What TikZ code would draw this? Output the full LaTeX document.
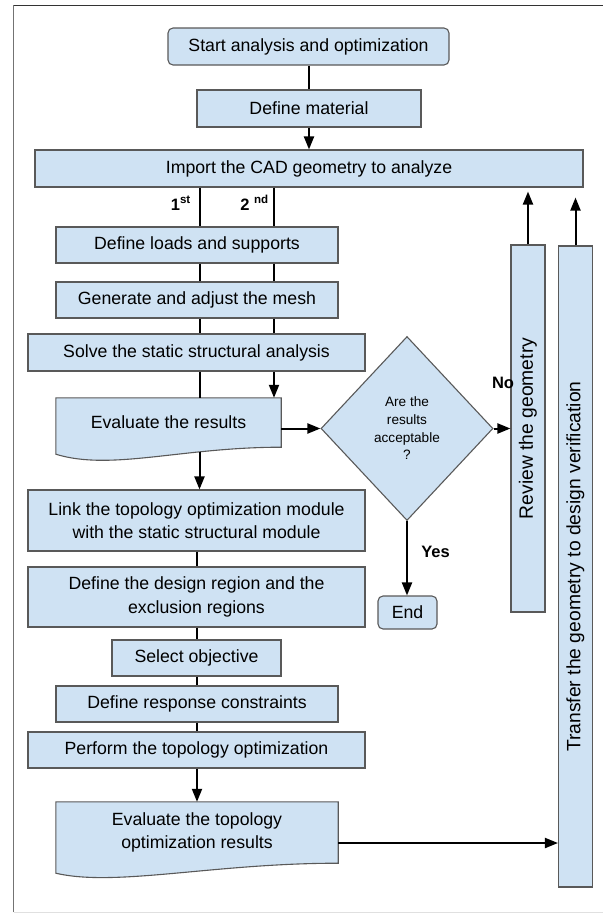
\documentclass[tikz,border=0pt]{standalone}
\usepackage{fontspec}
\setmainfont{Liberation Sans}
\usetikzlibrary{arrows.meta,shapes.geometric,calc,backgrounds}
\definecolor{boxfill}{HTML}{CFE2F3}
\definecolor{boxline}{HTML}{595959}
\begin{document}
\begin{tikzpicture}[x=1pt,y=-1pt,
  box/.style={draw=boxline, line width=1.1pt, fill=boxfill, inner sep=0pt, align=center,
              font=\fontsize{17.7}{23.5}\selectfont},
  docbox/.style={inner sep=0pt, align=center, font=\fontsize{17.7}{23.5}\selectfont},
  docshape/.style={draw=boxline, line width=1.1pt, fill=boxfill},
  conn/.style={line width=2pt, draw=black},
  arr/.style={conn, -{Triangle[length=13pt,width=10pt]}},
  lbl/.style={inner sep=0pt, font=\bfseries\fontsize{16.5}{18}\selectfont},
  vtxt/.style={inner sep=0pt, rotate=90, font=\fontsize{19.3}{22}\selectfont}]
\useasboundingbox (0,0) rectangle (603,913);

% frame
\draw[draw=black!55, line width=1pt] (13.5,912) -- (13.5,5);
\draw[draw=black!80, line width=1pt] (13.5,5) -- (603,5);
\draw[draw=black!12, line width=1pt] (13.5,912) -- (603,912);

% helper columns
\coordinate (c1) at (199.5,0);
\coordinate (c2) at (274,0);
\coordinate (c3) at (197,0);

% nodes
\node[box, rounded corners=5pt, minimum width=281pt, minimum height=37pt] (start) at (308.5,46.5) {Start analysis and optimization};
\node[box, minimum width=224pt, minimum height=37pt] (mat) at (309,108.5) {Define material};
\node[box, minimum width=548pt, minimum height=37pt] (imp) at (309,168.5) {Import the CAD geometry to analyze};
\node[box, minimum width=282pt, minimum height=36pt] (loads) at (197,245) {Define loads and supports};
\node[box, minimum width=282pt, minimum height=36pt] (mesh) at (197,300) {Generate and adjust the mesh};
\node[box, minimum width=337pt, minimum height=37pt] (solve) at (196.5,352.5) {Solve the static structural analysis};
\node[docbox, minimum width=225pt, minimum height=49pt] (evr) at (168.5,422.5) {Evaluate the results};
\node[box, diamond, aspect=0.935, minimum width=172pt, minimum height=184pt,
      font=\fontsize{13.6}{17.7}\selectfont] (dia) at (407,428.5) {Are the\\results\\acceptable\\?};
\node[box, minimum width=34pt, minimum height=367pt] (rev) at (528,428.5) {};
\node[vtxt] (revtxt) at (rev.center) {Review the geometry};
\node[box, minimum width=34pt, minimum height=641pt] (trans) at (575.5,566.5) {};
\node[vtxt] (transtxt) at (trans.center) {Transfer the geometry to design verification};
\node[box, rounded corners=5pt, minimum width=59pt, minimum height=33pt] (fin) at (407.5,612.5) {End};
\node[box, minimum width=337pt, minimum height=61pt] (link) at (196.5,520.5) {Link the topology optimization module\\with the static structural module};
\node[box, minimum width=337pt, minimum height=60pt] (design) at (196.5,597) {Define the design region and the\\exclusion regions};
\node[box, minimum width=169pt, minimum height=36pt] (obj) at (196.5,658) {Select objective};
\node[box, minimum width=282pt, minimum height=36pt] (resp) at (197,704) {Define response constraints};
\node[box, minimum width=337pt, minimum height=36pt] (perf) at (196.5,750) {Perform the topology optimization};
\node[docbox, minimum width=282pt, minimum height=61pt] (evt) at (197,832.5) {Evaluate the topology\\optimization results};

% document shapes
\begin{scope}[on background layer]
  \draw[docshape] (evr.north west) -- (evr.north east) -- (evr.south east)
     .. controls +(-100,0) and +(55,17) .. ($(evr.south west)+(0,7)$) -- cycle;
  \draw[docshape] (evt.north west) -- (evt.north east) -- (evt.south east)
     .. controls +(-125,0) and +(60,14) .. ($(evt.south west)+(0,10)$) -- cycle;
\end{scope}

% labels
\node[lbl, anchor=base east] (l1) at (191,210) {1\textsuperscript{st}};
\node[lbl, anchor=base east] (l2) at (269,210) {2 \textsuperscript{nd}};
\node[lbl] (lno) at (503,383) {No};
\node[lbl] (lyes) at (435.5,552) {Yes};

% connectors
\draw[conn] (start.south) -- (start.south |- mat.north);
\draw[arr] (mat.south) -- (mat.south |- imp.north);
\draw[conn] (imp.south -| c1) -- (loads.north -| c1);
\draw[conn] (imp.south -| c2) -- (loads.north -| c2);
\draw[conn] (loads.south -| c1) -- (mesh.north -| c1);
\draw[conn] (loads.south -| c2) -- (mesh.north -| c2);
\draw[conn] (mesh.south -| c1) -- (solve.north -| c1);
\draw[conn] (mesh.south -| c2) -- (solve.north -| c2);
\draw[conn] (solve.south -| c1) -- (evr.north -| c1);
\draw[arr] (solve.south -| c2) -- (evr.north -| c2);
\coordinate (evrb) at ($(evr.south -| c1)+(0,5)$);
\draw[arr] (evrb) -- (link.north -| c1);
\draw[arr] (evr.east |- dia.west) -- (dia.west);
\draw[arr] (dia.east) -- (rev.west |- dia.east);
\draw[arr] (dia.south) -- (dia.south |- fin.north);
\draw[arr, shorten >=4pt] (rev.north) -- (rev.north |- imp.south);
\draw[arr, shorten >=10pt] (trans.north) -- (trans.north |- imp.south);
\draw[conn] (link.south -| c3) -- (design.north -| c3);
\draw[conn] (design.south -| c3) -- (obj.north -| c3);
\draw[conn] (obj.south -| c3) -- (resp.north -| c3);
\draw[conn] (resp.south -| c3) -- (perf.north -| c3);
\draw[arr] (perf.south -| c3) -- (evt.north -| c3);
\coordinate (evtR) at ([yshift=-10.5pt]evt.east);
\draw[arr] (evtR) -- (evtR -| trans.west);
\end{tikzpicture}
\end{document}
